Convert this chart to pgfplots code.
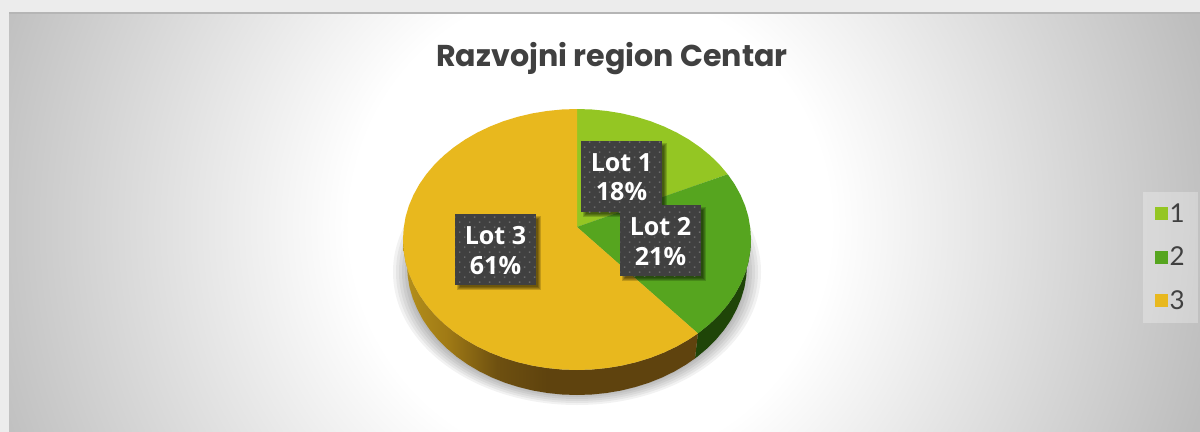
\documentclass[border=0pt]{standalone}
\usepackage{fontspec}
\usepackage{pgfplots}
\pgfplotsset{compat=1.18}
\usetikzlibrary{patterns.meta}
\setmainfont{Open Sans}
\newfontfamily\titlefont{Poppins}
\newfontfamily\legendfont{Lato}
\definecolor{ca}{HTML}{94C623}
\definecolor{cb}{HTML}{56A51F}
\definecolor{cc}{HTML}{E8B81E}
\definecolor{sideb}{HTML}{1F4508}
\definecolor{boxc}{HTML}{404040}
\definecolor{txt}{HTML}{404040}
\definecolor{page}{HTML}{ECECEC}
\definecolor{ga}{HTML}{B5901C}
\definecolor{gb}{HTML}{A07A15}
\definecolor{gc}{HTML}{6E5010}
\definecolor{gd}{HTML}{5F430E}
\pgfdeclareradialshading{bgr}{\pgfpointorigin}{color(0bp)=(white); color(6bp)=(white); color(16bp)=(black!26); color(50bp)=(black!26)}
\pgfdeclarehorizontalshading{goldside}{100bp}{color(0bp)=(ga); color(25bp)=(ga); color(32.5bp)=(gb); color(41bp)=(gc); color(49.4bp)=(gd); color(75bp)=(gd); color(100bp)=(gd)}
\newcommand{\shadowrect}[5]{\fill[black,opacity=.17] (axis cs:#1+5-#5,#2+5-#5) rectangle (axis cs:#3+2+#5,#4+2+#5);}
\newcommand{\lotbox}[4]{%
  \shadowrect{#1}{#2}{#1+81}{#2+71}{0}
  \shadowrect{#1}{#2}{#1+81}{#2+71}{1}
  \shadowrect{#1}{#2}{#1+81}{#2+71}{2}
  \shadowrect{#1}{#2}{#1+81}{#2+71}{3}
  \fill[boxc] (axis cs:#1,#2) rectangle (axis cs:#1+81,#2+71);
  \fill[pattern={Dots[radius=.75pt,distance=5.3pt,angle=45]},pattern color=white!22!boxc] (axis cs:#1,#2) rectangle (axis cs:#1+81,#2+71);
  \node[white,align=center,inner sep=0pt,font=\fontsize{18.8}{22}\selectfont\bfseries] at (axis cs:#1+40.5,#2+36.5) {#3\\#4};}
\newcommand{\shadowell}[2]{\fill[black,opacity=.05] (axis cs:577,272) ellipse [x radius=#1pt,y radius=#2pt];}
\begin{document}
\begin{tikzpicture}
\useasboundingbox (0,0) rectangle (900pt,324pt);
\begin{axis}[
  at={(0,0)},anchor=south west,
  scale only axis,width=900pt,height=324pt,
  xmin=0,xmax=1200,ymin=0,ymax=432,y dir=reverse,
  hide axis,
  legend style={at={(axis cs:1143,192)},anchor=north west,draw=none,fill=white,fill opacity=.28,text opacity=1,
    font=\legendfont\fontsize{19.5}{20}\selectfont,text=txt,row sep=15pt,inner xsep=9pt,inner ysep=7.5pt,
    nodes={inner sep=1pt}},
  legend image code/.code={\fill[#1,fill opacity=1] (0pt,-4.9pt) rectangle (9.75pt,4.9pt);},
]
% background
\shade[shading=bgr] (axis cs:-410,-775) rectangle (axis cs:1590,1225);
\fill[page] (axis cs:0,0) rectangle (axis cs:1200,12);
\fill[page] (axis cs:0,0) rectangle (axis cs:9,432);
\fill[black!29] (axis cs:9,12) rectangle (axis cs:1200,14);
% pie shadow
\shadowell{138}{99.75}
\shadowell{135.75}{98.25}
\shadowell{133.5}{96.75}
\shadowell{131.25}{95.25}
\shadowell{129}{93.75}
\shadowell{126.75}{92.25}
% side of lot 2
\addplot[forget plot,draw=none,fill=sideb] coordinates {
(751,239.5)(750.3,250.9)(748.4,262.2)(745.1,273.3)(740.5,284.1)(734.7,294.7)(727.7,304.75)(719.5,314.4)(710.3,323.4)(700,331.8)(697.9,333.4)
(695,358.4)(697.2,356.8)(707.2,348.4)(716.2,339.4)(724.2,329.75)(731.1,319.7)(736.7,309.1)(741.2,298.3)(744.5,287.2)(746.3,275.9)(747,264.5)} -- cycle;
% side of lot 3
\addplot[forget plot,draw=none,shading=goldside] coordinates {
(697.9,333.4)(688.8,339.5)(676.8,346.4)(664,352.5)(650.5,357.8)(636.5,362.1)(622,365.55)(607.2,368)(592.2,369.5)(577,370)(561.8,369.5)(546.8,368)(532,365.55)(517.5,362.1)(503.5,357.8)(490,352.5)(477.2,346.4)(465.2,339.5)(454,331.8)(443.7,323.4)(434.5,314.4)(426.3,304.75)(419.3,294.7)(413.5,284.1)(408.9,273.3)(405.6,262.2)(403.7,250.9)(403,239.5)
(407,264.5)(407.7,275.9)(409.5,287.2)(412.8,298.3)(417.3,309.1)(422.9,319.7)(429.8,329.75)(437.8,339.4)(446.8,348.4)(456.8,356.8)(467.8,364.5)(479.5,371.4)(492,377.5)(505.2,382.8)(518.9,387.1)(533,390.55)(547.5,393)(562.1,394.5)(577,395)(591.9,394.5)(606.5,393)(621,390.55)(635.1,387.1)(648.8,382.8)(662,377.5)(674.5,371.4)(686.2,364.5)(695,358.4)} -- cycle;
% top faces: 18, 21, 61 per cent
\addplot[draw=none,fill=ca] coordinates {
(577,227)(577,109)(592.2,109.5)(607.2,111)(622,113.45)(636.5,116.9)(650.5,121.2)(664,126.5)(676.8,132.6)(688.8,139.5)(700,147.2)(710.3,155.6)(719.5,164.6)(727.7,174.25)} -- cycle;
\addlegendentry{1}
\addplot[draw=none,fill=cb] coordinates {
(577,227)(727.7,174.25)(734.7,184.3)(740.5,194.9)(745.1,205.7)(748.4,216.8)(750.3,228.1)(751,239.5)(750.3,250.9)(748.4,262.2)(745.1,273.3)(740.5,284.1)(734.7,294.7)(727.7,304.75)(719.5,314.4)(710.3,323.4)(700,331.8)(697.9,333.4)} -- cycle;
\addlegendentry{2}
\addplot[draw=none,fill=cc] coordinates {
(577,227)(697.9,333.4)(688.8,339.5)(676.8,346.4)(664,352.5)(650.5,357.8)(636.5,362.1)(622,365.55)(607.2,368)(592.2,369.5)(577,370)(561.8,369.5)(546.8,368)(532,365.55)(517.5,362.1)(503.5,357.8)(490,352.5)(477.2,346.4)(465.2,339.5)(454,331.8)(443.7,323.4)(434.5,314.4)(426.3,304.75)(419.3,294.7)(413.5,284.1)(408.9,273.3)(405.6,262.2)(403.7,250.9)(403,239.5)(403.7,228.1)(405.6,216.8)(408.9,205.7)(413.5,194.9)(419.3,184.3)(426.3,174.25)(434.5,164.6)(443.7,155.6)(454,147.2)(465.2,139.5)(477.2,132.6)(490,126.5)(503.5,121.2)(517.5,116.9)(532,113.45)(546.8,111)(561.8,109.5)(577,109)} -- cycle;
\addlegendentry{3}
% labels
\lotbox{581}{141}{Lot 1}{18\%}
\lotbox{620}{205}{Lot 2}{21\%}
\lotbox{455}{214}{Lot 3}{61\%}
% title
\node[text=txt,inner sep=0pt,anchor=base,font=\titlefont\fontsize{22.6}{26}\selectfont\bfseries] at (axis cs:612,66) {Razvojni region Centar};
\end{axis}
\end{tikzpicture}
\end{document}
